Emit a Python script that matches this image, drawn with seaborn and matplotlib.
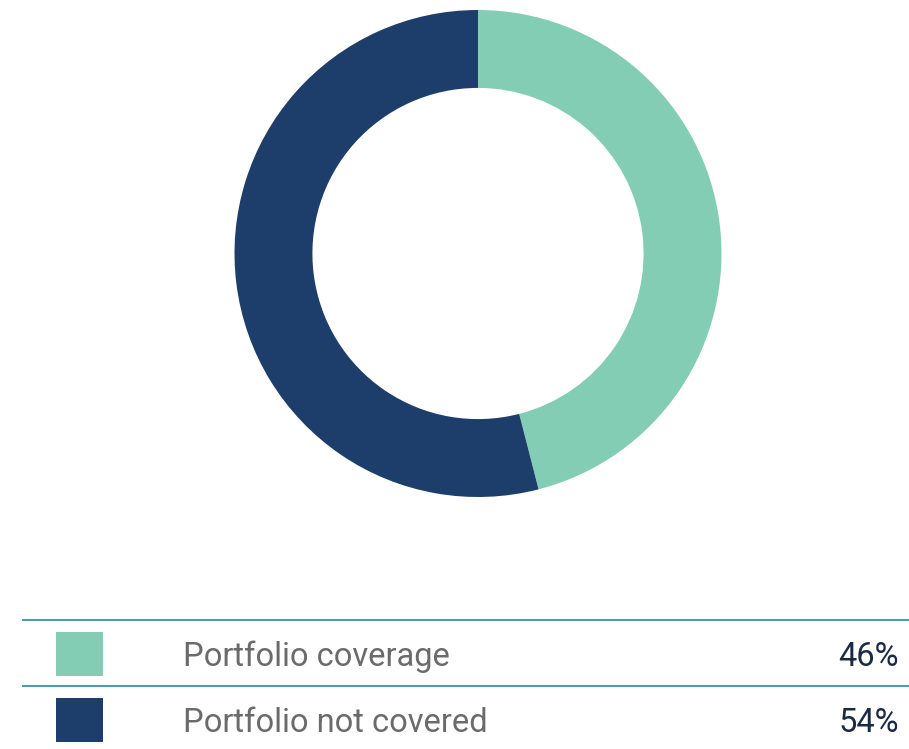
import matplotlib
matplotlib.use("Agg")
import matplotlib.pyplot as plt
import seaborn as sns
from matplotlib.patches import Rectangle

categories = ["Portfolio coverage", "Portfolio not covered"]
shares = [46, 54]
palette = ["#84CDB5", "#1D3D6B"]

sns.set_theme(style="white")
plt.rcParams["font.family"] = ["Roboto", "DejaVu Sans"]

W, H = 909, 749
fig = plt.figure(figsize=(W / 100, H / 100), dpi=100)

# donut
cx, cy, r = 478, 253.5, 243.5
ax = fig.add_axes([(cx - r) / W, (H - cy - r) / H, 2 * r / W, 2 * r / H])
ax.pie(shares, colors=palette, startangle=90, counterclock=False, radius=1,
       wedgeprops=dict(width=0.32, edgecolor="none"))
ax.set_xlim(-1, 1)
ax.set_ylim(-1, 1)
ax.set_aspect("equal")
ax.axis("off")

# legend table
lax = fig.add_axes([0, 0, 1, 1])
lax.set_xlim(0, W)
lax.set_ylim(H, 0)
lax.axis("off")

row_top = [620, 686]
line_color = "#3592AC"
for i, (cat, val, col) in enumerate(zip(categories, shares, palette)):
    y0 = row_top[i]
    lax.plot([22, W], [y0, y0], color=line_color, lw=1.3, solid_capstyle="butt")
    lax.add_patch(Rectangle((56, y0 + 12), 47, 44, facecolor=col, edgecolor="none"))
    yc = y0 + 36.5
    lax.text(183, yc, cat, fontsize=23.5, color="#6B6B6B", va="center", ha="left")
    lax.text(899, yc, f"{val}%", fontsize=23.5, color="#1B2A44", va="center", ha="right")

fig.savefig("out.png", dpi=100, facecolor="white")
